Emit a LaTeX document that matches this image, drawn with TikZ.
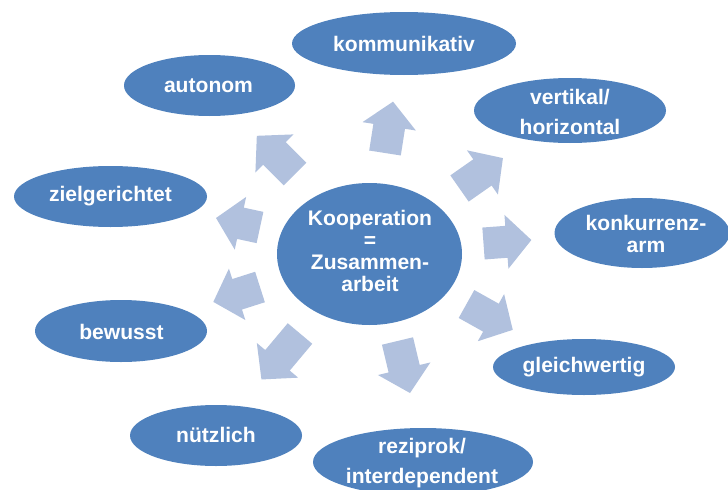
\documentclass[tikz,border=0pt]{standalone}
\usepackage{fontspec}
\setmainfont{Liberation Sans}
\usetikzlibrary{shapes.geometric}
\definecolor{ovalblue}{HTML}{4F81BD}
\definecolor{arrowblue}{HTML}{B1C1DE}
\begin{document}
\begin{tikzpicture}[x=0.75pt,y=-0.75pt,
  oval/.style={ellipse, fill=ovalblue, draw=none, inner sep=0pt},
  lbl/.style={text=white, font=\bfseries\fontsize{15.8}{16.5}\selectfont,
              align=center, inner sep=0pt},
  pics/blockarrow/.style={code={
    \fill[arrowblue] (0,-16) -- (#1-25,-16) -- (#1-25,-27) -- (#1,0)
      -- (#1-25,27) -- (#1-25,16) -- (0,16) -- cycle;}}
]
\useasboundingbox (0,0) rectangle (728,489);

% central oval
\node[oval, minimum width=185*0.75pt, minimum height=142*0.75pt] (koop) at (369.5,254) {};
\node[lbl] (tkoop) at (370,250.5) {Kooperation\\=\\Zusammen-\\arbeit};

% outer ovals
\node[oval, minimum width=224*0.75pt, minimum height=63*0.75pt] (komm) at (404,43.5) {};
\node[oval, minimum width=171*0.75pt, minimum height=61*0.75pt] (auto) at (209.5,85.5) {};
\node[oval, minimum width=192*0.75pt, minimum height=65*0.75pt] (vert) at (570,110.5) {};
\node[oval, minimum width=193*0.75pt, minimum height=61*0.75pt] (ziel) at (110.5,196.5) {};
\node[oval, minimum width=175*0.75pt, minimum height=70*0.75pt] (konk) at (642,233) {};
\node[oval, minimum width=172*0.75pt, minimum height=62*0.75pt] (bew) at (121,331) {};
\node[oval, minimum width=182*0.75pt, minimum height=56*0.75pt] (gleich) at (584,367) {};
\node[oval, minimum width=172*0.75pt, minimum height=61*0.75pt] (nuetz) at (216,435.5) {};
\node[oval, minimum width=220*0.75pt, minimum height=68*0.75pt] (rez) at (423,462) {};

\node[lbl] (tkomm) at (404,44) {kommunikativ};
\node[lbl] (tauto) at (208.5,86) {autonom};
\node[lbl] (tvert) at (570,112) {vertikal/\\[6pt]horizontal};
\node[lbl] (tziel) at (110.5,196) {zielgerichtet};
\node[lbl] (tkonk) at (646,234) {konkurrenz-\\arm};
\node[lbl] (tbew) at (121.5,332) {bewusst};
\node[lbl] (tgleich) at (584,367) {gleichwertig};
\node[lbl] (tnuetz) at (216,435) {nützlich};
\node[lbl] (trez) at (422,463) {reziprok/\\[6pt]interdependent};

% radiating block arrows
\pic[rotate=81.1] at (385,153) {blockarrow=52};
\pic[rotate=35.0] at (459.5,188.5) {blockarrow=53};
\pic[rotate=4.2] at (483.5,243.5) {blockarrow=48};
\pic[rotate=-29.2] at (466.5,304) {blockarrow=53};
\pic[rotate=-76.5] at (397.5,341) {blockarrow=53.5};
\pic[rotate=-130] at (300,333.5) {blockarrow=60};
\pic[rotate=-162.3] at (260,287) {blockarrow=49};
\pic[rotate=167.8] at (260,227.5) {blockarrow=45};
\pic[rotate=135] at (295,174) {blockarrow=54};
\end{tikzpicture}
\end{document}
